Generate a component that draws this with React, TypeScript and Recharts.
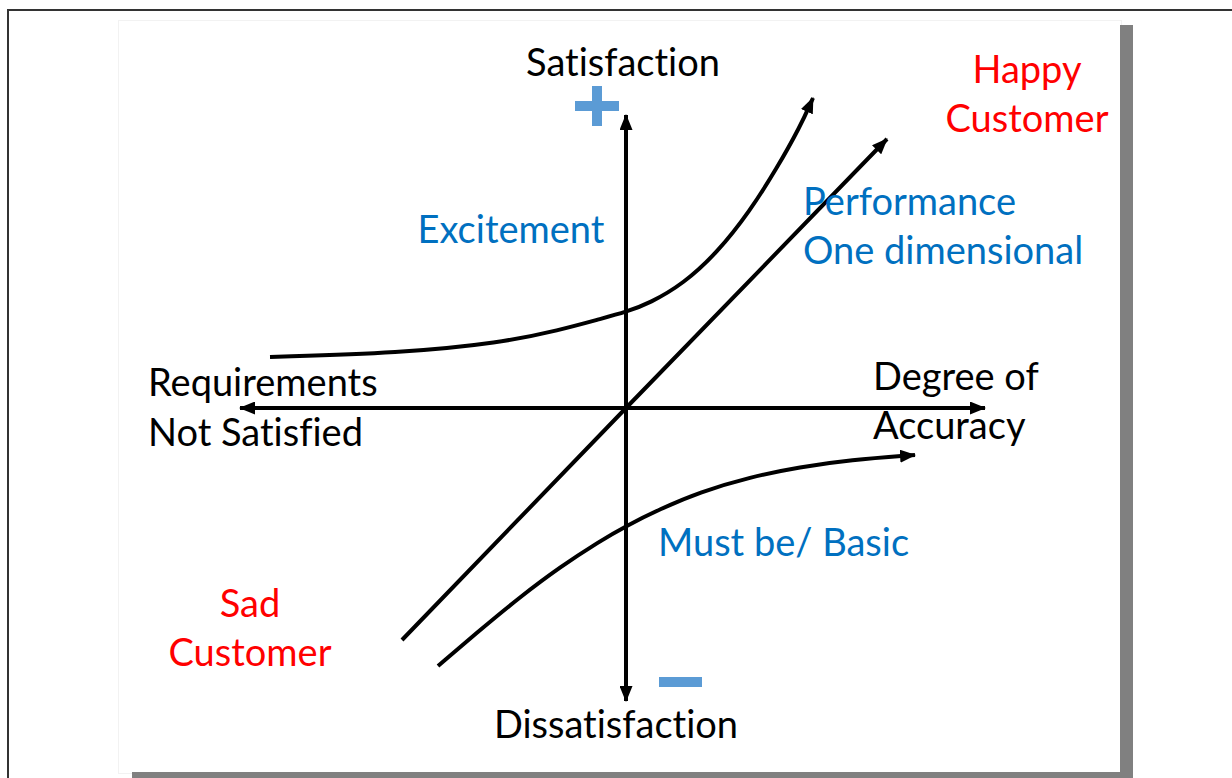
import React from 'react';
import { ComposedChart, Line, Scatter, XAxis, YAxis } from 'recharts';

// Kano model. Units are offsets from the origin of the two axes (y up).
const horizontalAxis = [
  { x: -386, y: 0 },
  { x: 359, y: 0 },
];
const verticalAxis = [
  { x: 0, y: -293 },
  { x: 0, y: 293 },
];
const performance = [
  { x: -224, y: -232 },
  { x: 0, y: 0 },
  { x: 261, y: 269 },
];
const excitement = [
  { x: -356, y: 51 },
  { x: -226, y: 55 },
  { x: -126, y: 65 },
  { x: -66, y: 78 },
  { x: -26, y: 89 },
  { x: 0, y: 96 },
  { x: 24, y: 105 },
  { x: 57, y: 124 },
  { x: 91, y: 155 },
  { x: 124, y: 197 },
  { x: 151, y: 240 },
  { x: 174, y: 281 },
  { x: 187, y: 310 },
];
const mustBe = [
  { x: -188, y: -258 },
  { x: -146, y: -222 },
  { x: -106, y: -189 },
  { x: -66, y: -159 },
  { x: -26, y: -133 },
  { x: 0, y: -118 },
  { x: 34, y: -101 },
  { x: 74, y: -84 },
  { x: 124, y: -69 },
  { x: 174, y: -59 },
  { x: 224, y: -52 },
  { x: 289, y: -47 },
];

const signs = [
  { x: -29, y: 302, kind: 'plus' },
  { x: 54, y: -274, kind: 'minus' },
];

const labels = [
  { x: -3, y: 332, text: 'Satisfaction', color: 'black', anchor: 'middle' },
  { x: -10, y: -330, text: 'Dissatisfaction', color: 'black', anchor: 'middle' },
  { x: -478, y: 12, text: 'Requirements', color: 'black', anchor: 'start' },
  { x: -478, y: -38, text: 'Not Satisfied', color: 'black', anchor: 'start' },
  { x: 247, y: 18, text: 'Degree of', color: 'black', anchor: 'start' },
  { x: 247, y: -31, text: 'Accuracy', color: 'black', anchor: 'start' },
  { x: -115, y: 165, text: 'Excitement', color: '#0070C0', anchor: 'middle' },
  { x: 177, y: 193, text: 'Performance', color: '#0070C0', anchor: 'start' },
  { x: 177, y: 144, text: 'One dimensional', color: '#0070C0', anchor: 'start' },
  { x: 32, y: -148, text: 'Must be/ Basic', color: '#0070C0', anchor: 'start' },
  { x: 401, y: 325, text: 'Happy', color: '#FF0000', anchor: 'middle' },
  { x: 401, y: 276, text: 'Customer', color: '#FF0000', anchor: 'middle' },
  { x: -376, y: -209, text: 'Sad', color: '#FF0000', anchor: 'middle' },
  { x: -376, y: -258, text: 'Customer', color: '#FF0000', anchor: 'middle' },
];

const FONT = 'Lato, "Noto Sans", sans-serif';

const LabelShape = (props: any) => {
  const { cx, cy, payload } = props;
  return (
    <text
      x={cx}
      y={cy}
      fill={payload.color}
      textAnchor={payload.anchor}
      fontFamily={FONT}
      fontSize={38}
      style={{ fontVariantLigatures: 'none', fontFeatureSettings: '"liga" 0' }}
    >
      {payload.text}
    </text>
  );
};

const SignShape = (props: any) => {
  const { cx, cy, payload } = props;
  const fill = '#5B9BD5';
  if (payload.kind === 'plus') {
    return (
      <g>
        <rect x={cx - 22} y={cy - 5} width={44} height={10} fill={fill} />
        <rect x={cx - 5} y={cy - 20} width={10} height={40} fill={fill} />
      </g>
    );
  }
  return <rect x={cx - 21} y={cy - 5} width={43} height={10} fill={fill} />;
};

const lineProps = {
  dataKey: 'y',
  stroke: '#000',
  strokeWidth: 4,
  dot: false,
  activeDot: false,
  isAnimationActive: false,
  legendType: 'none' as const,
};

export default function App() {
  return (
    <div style={{ position: 'absolute', left: 0, top: 0, width: 1232, height: 778, background: '#fff', overflow: 'hidden' }}>
      {/* slide frame */}
      <div style={{ position: 'absolute', left: 7, top: 9, width: 1240, height: 800, border: '2px solid #333' }} />
      <div style={{ position: 'absolute', left: 118, top: 20, width: 1002, height: 752, border: '1px solid #f2f2f2' }} />
      <div style={{ position: 'absolute', left: 1120, top: 25, width: 13, height: 760, background: '#808080' }} />
      <div style={{ position: 'absolute', left: 132, top: 772, width: 1001, height: 10, background: '#808080' }} />
      <div style={{ position: 'absolute', left: 0, top: 0 }}>
        <ComposedChart width={1232} height={778} margin={{ top: 0, right: 0, bottom: 0, left: 0 }}>
          <defs>
            <marker
              id="arrow"
              viewBox="0 0 16 13"
              refX={15}
              refY={6.5}
              markerWidth={16}
              markerHeight={13}
              markerUnits="userSpaceOnUse"
              orient="auto-start-reverse"
            >
              <path d="M0,0 L16,6.5 L0,13 z" fill="#000" />
            </marker>
          </defs>
          <XAxis type="number" dataKey="x" domain={[-626, 606]} hide allowDataOverflow />
          <YAxis type="number" dataKey="y" domain={[-370, 408]} hide allowDataOverflow />
          <Line {...lineProps} data={horizontalAxis} type="linear" markerStart="url(#arrow)" markerEnd="url(#arrow)" />
          <Line {...lineProps} data={verticalAxis} type="linear" markerStart="url(#arrow)" markerEnd="url(#arrow)" />
          <Line {...lineProps} data={performance} type="linear" markerEnd="url(#arrow)" />
          <Line {...lineProps} data={excitement} type="basis" markerEnd="url(#arrow)" />
          <Line {...lineProps} data={mustBe} type="basis" markerEnd="url(#arrow)" />
          <Scatter data={signs} shape={SignShape} isAnimationActive={false} />
          <Scatter data={labels} shape={LabelShape} isAnimationActive={false} />
        </ComposedChart>
      </div>
    </div>
  );
}
